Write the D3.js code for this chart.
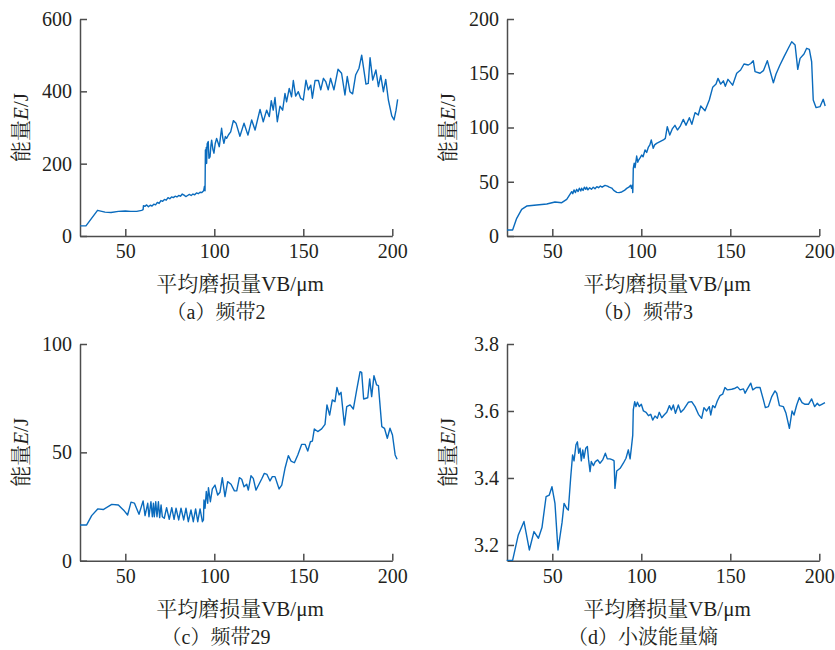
<!DOCTYPE html>
<html>
<head>
<meta charset="utf-8">
<script src="https://cdn.jsdelivr.net/npm/d3@7"></script>
<style>
	body { margin: 0; background: #fff; }
	svg text { font-family: "Liberation Serif", "Noto Serif CJK SC", "Noto Sans CJK SC", serif; fill: #231f20; }
	.axis path, .axis line { stroke: #4d4d4d; stroke-width: 1.5; }
	.axis text { font-size: 20px; }
</style>
</head>
<body>
<svg id="plot" width="835" height="650"></svg>
<script>
// x axis: mean flank wear VB (um)
var xTicks = [50, 100, 150, 200];

// (a) band 2
var band2Ticks = [0, 200, 400, 600];
var band2 = [[24.55,28],[27.9,28],[34.4,71],[38.6,66],[42,65],[46.1,68],[50,69],[53,68],[56.4,68],[59.2,71],[60,73],[60.2,84],[61,82],[62,86],[63,81],[64,85],[65,83],[66,88],[67,86],[68,93],[69,90],[70,98],[71,96],[72,101],[73,99],[74,106],[75,103],[76,108],[77,106],[78,110],[79,108],[80,112],[81,110],[82,116],[83,113],[84,109],[85,112],[86,115],[87,112],[88,116],[89,114],[90,119],[91,117],[92,121],[93,120],[94,125],[94.5,138],[94.8,125],[95,238],[95.2,200],[95.5,245],[95.7,201],[96,255],[96.6,261],[97,215],[97.6,219],[98.1,250],[98.5,265],[99.2,240],[99.8,229],[100.5,255],[101.3,270],[102.1,258],[102.8,247],[103.5,275],[104.1,298],[104.8,270],[105.4,256],[106.2,275],[106.9,270],[108,280],[109.2,288],[110.7,319],[112.2,312],[114.4,276],[116.7,312],[118.9,279],[121,321],[122.9,293],[125.7,350],[127.5,316],[129.4,348],[130.9,330],[132,374],[133.1,348],[134.1,383],[135.4,316],[136.9,359],[138.4,348],[139.7,394],[140.6,371],[142.1,408],[143.4,385],[144.4,430],[145.7,387],[147.2,399],[148.5,381],[150,376],[151.5,431],[152.8,404],[154.2,417],[155.1,381],[156.6,430],[158.5,430],[159.8,404],[161.3,436],[162.6,427],[164,404],[165.3,436],[167.2,404],[169.5,461],[171.5,450],[173.4,390],[174.7,441],[176.2,399],[177.7,393],[179.4,445],[181.3,464],[182.8,500],[185.2,420],[186.5,422],[187.5,493],[189,431],[190.8,459],[192.2,413],[193.5,444],[195,399],[196.3,433],[197.8,376],[199.7,332],[201,321],[202.1,348],[203,378]];

// (b) band 3
var band3Ticks = [0, 50, 100, 150, 200];
var band3 = [[24.55,5.5],[27.7,5.5],[30,16.3],[32.8,24.6],[35.6,27.6],[41.2,28.6],[46.9,29.5],[51.5,31.3],[55.3,30.7],[58.1,33.8],[60.9,40.9],[61.5,39],[62.2,42.5],[63,40],[63.7,43],[64.5,41],[65.2,44],[66,41.5],[66.5,44],[67.3,42],[68,45],[68.8,43],[69.3,45],[70,42.5],[71,44.5],[72,43],[73,45],[74,43.5],[75,45.5],[76,44.5],[77,46],[78,45],[79.6,46.7],[81,46],[82,45],[83.4,44.2],[84.5,42],[86.2,40.2],[87.5,40],[89,40.6],[90.5,42],[91.8,43.9],[93,45],[94,46.7],[94.5,44],[95,47],[95.2,40],[95.3,45],[95.5,62.4],[96,67],[96.5,63],[97.4,73.7],[98,68],[98.5,70],[99.3,72],[100.2,74.6],[101,73],[102.1,79.3],[103,77],[104,82],[104.8,84],[105.6,88.5],[106.7,80.8],[107.5,84],[108.6,85.4],[110.5,87],[112.4,88.5],[113.5,90],[114.6,100.8],[116,93],[117.5,99],[118.9,102],[120.3,97.7],[121.8,101],[123.6,107.5],[125.1,102],[127,109],[128.4,103],[130.2,113.7],[132,111.5],[133.4,119.8],[135.8,115.5],[138.2,125.3],[140.1,137],[142,140],[143.1,145.3],[144.6,140],[146.1,143],[147.2,138],[148.7,144.4],[151.3,139],[153.6,150],[155.8,153],[157.7,158.5],[160.1,157.6],[161.5,159],[162.9,161.6],[163.9,151.5],[166.7,150],[168.6,152.4],[170.8,161.6],[172.7,150],[174.2,141.3],[175.7,149.3],[177.9,157.6],[180.2,165.3],[182.6,173],[184.5,179],[186.4,176],[187.9,153.6],[189.2,163.7],[191.4,167.7],[192.9,173],[194.4,172],[195.7,160.6],[196.6,125.3],[198.2,118.3],[200.4,119.2],[202.2,126],[203.3,119.8]];

// (c) band 29
var band29Ticks = [0, 50, 100];
var band29 = [[24.55,16.5],[28.3,16.5],[31.1,20.8],[34.5,23.9],[37.6,23.6],[42.4,26],[46.1,25.7],[49.4,23],[51.3,21.1],[53.2,27],[55.1,26.6],[57.7,21.4],[60,27.6],[61.1,20.8],[62.6,26.5],[63.3,20.3],[64.4,27.2],[65.2,20.3],[65.8,26.5],[66.3,20.3],[67.1,27.2],[67.8,20.3],[68.6,27.2],[69.3,19.9],[70.1,25.7],[70.8,20.3],[71.9,19.6],[73.2,24.5],[74.7,19.1],[76.1,24.5],[77.4,19.1],[78.5,24.2],[80,18.8],[81.3,24.2],[82.8,18.8],[84.1,24.2],[85.4,18],[86.9,23.4],[88.2,18],[89.5,23.9],[90.7,18],[92,23.9],[93.3,18],[93.9,18.8],[94.2,28],[94.8,24.2],[95.5,31.9],[96.3,26.5],[96.7,33.7],[97.8,27.2],[98.9,33.1],[100.4,34.9],[101.9,30.3],[103.2,31.6],[104.5,38.3],[106,29.6],[107.5,36.5],[109.4,35.3],[111.3,32.2],[112.6,32.2],[114.1,38.3],[115.4,37.6],[116.7,34.1],[118.2,35.3],[119.1,32.6],[120.6,39.2],[121.9,38],[123.4,32.6],[125.1,35.3],[126.6,37.7],[128.1,40.3],[129.6,39.8],[131.3,36.8],[132.6,38.8],[134.1,38.8],[136.4,33.1],[137.9,34.9],[139.8,42.9],[141.6,48.5],[143.1,46],[145,45.2],[146.9,48.8],[149.1,53.7],[151,53.7],[152.5,50.6],[154,54.9],[155.1,55.2],[156.2,60.8],[158.1,59.6],[160.3,60.8],[162.2,62.9],[163.3,71.9],[164.8,67.2],[166.3,74.2],[167.8,73.4],[168.9,79.9],[170.1,76.5],[171.2,77.7],[173.1,62.6],[174.4,71.1],[176.3,71.9],[178.1,70],[180,78.8],[181.9,87.2],[182.8,86.9],[183.9,74.6],[186.2,75.2],[187.3,83.9],[188.4,75.7],[189.7,85.4],[191.2,81.1],[192.2,80.8],[194.1,61.9],[195.6,61.1],[197.2,56.5],[198.7,61.1],[200.1,58],[201.6,48.8],[202.7,46.8]];

// (d) wavelet energy entropy
var entropyTicks = [3.2, 3.4, 3.6, 3.8];
var entropy = [[24.4,3.154],[27.7,3.154],[30.9,3.230],[34.1,3.270],[37.1,3.185],[39.7,3.240],[42.2,3.220],[44.2,3.252],[46.5,3.344],[48.3,3.349],[49.8,3.374],[51.5,3.324],[53.2,3.185],[55.5,3.268],[56.6,3.324],[58.1,3.309],[59,3.304],[60.3,3.399],[61.4,3.469],[62.2,3.451],[63.3,3.499],[64.1,3.508],[64.8,3.474],[65.6,3.489],[66.3,3.451],[67.1,3.484],[67.8,3.459],[68.8,3.489],[69.7,3.494],[70.4,3.454],[71.2,3.419],[71.9,3.449],[73.1,3.437],[74.2,3.449],[75.5,3.454],[76.8,3.444],[78.3,3.454],[79.8,3.474],[80.9,3.457],[82.4,3.457],[83.9,3.454],[84.7,3.451],[85.2,3.369],[86.2,3.421],[88.1,3.429],[89.9,3.444],[91.4,3.459],[92.7,3.484],[93.7,3.457],[94.4,3.489],[95.2,3.528],[95.5,3.603],[96.3,3.628],[97,3.613],[97.8,3.626],[98.9,3.613],[100,3.620],[101.2,3.600],[102.7,3.596],[104,3.586],[105.3,3.590],[106.4,3.573],[107.7,3.585],[109,3.578],[110.1,3.596],[111.5,3.580],[112.8,3.588],[114.3,3.596],[115.8,3.616],[116.9,3.603],[118,3.618],[119.2,3.593],[120.8,3.618],[122.2,3.596],[124,3.606],[126.4,3.626],[128.3,3.628],[130.2,3.613],[132.1,3.590],[133.9,3.578],[135.2,3.610],[136.7,3.600],[138.2,3.613],[139,3.588],[140.1,3.616],[141.4,3.610],[142.7,3.630],[144.2,3.646],[145.7,3.650],[147,3.670],[148.4,3.663],[150.8,3.665],[152.7,3.668],[154,3.672],[155.5,3.663],[157.4,3.666],[158.3,3.653],[159.6,3.666],[161.5,3.683],[162.6,3.663],[164.5,3.670],[166.7,3.670],[168.6,3.633],[169.7,3.610],[171.4,3.613],[173.3,3.643],[175.1,3.660],[176.1,3.653],[177.6,3.616],[179.8,3.613],[181.3,3.593],[183.2,3.548],[184.7,3.600],[185.8,3.588],[187.3,3.618],[188.8,3.640],[190.3,3.625],[192,3.620],[193.9,3.620],[195.7,3.636],[197.4,3.613],[198.9,3.623],[200,3.616],[201.4,3.620],[203.2,3.625]];

var captions = ["（a）频带2", "（b）频带3", "（c）频带29", "（d）小波能量熵"];

var svg = d3.select('#plot');

function Panel(opt) {
	var x = d3.scaleLinear().domain([24.55, 200]).range([opt.l, opt.l + 312.3]),
		y = d3.scaleLinear().domain(opt.yDomain).range([opt.b, opt.t]);

	var g = svg.append("g");

	g.append("g")
		.attr("class", "axis")
		.attr("transform", "translate(0," + opt.b + ")")
		.call(d3.axisBottom(x).tickValues(xTicks).tickSizeInner(-7).tickSizeOuter(0).tickPadding(8));

	g.append("g")
		.attr("class", "axis")
		.attr("transform", "translate(" + opt.l + ",0)")
		.call(d3.axisLeft(y).tickValues(opt.ticks).tickSizeInner(-7).tickSizeOuter(0).tickPadding(8)
			.tickFormat(opt.fmt || d3.format("d")));

	g.selectAll(".axis text").attr("fill", "#231f20");

	var line = d3.line()
		.x(function(d) { return x(d[0]); })
		.y(function(d) { return y(d[1]); });

	g.append("path")
		.datum(opt.data)
		.attr("fill", "none")
		.attr("stroke", "#0a6bbd")
		.attr("stroke-width", 1.4)
		.attr("stroke-linejoin", "round")
		.attr("d", line);

	// y label
	var yl = g.append("text")
		.attr("transform", "translate(" + (opt.l - 60) + "," + ((opt.t + opt.b) / 2) + ") rotate(-90)")
		.attr("text-anchor", "middle")
		.attr("dy", "0.4em")
		.style("font-size", "21px");
	yl.append("tspan").text("能量");
	yl.append("tspan").style("font-style", "italic").text("E");
	yl.append("tspan").text("/J");

	g.append("text")
		.attr("x", opt.l + 160)
		.attr("y", opt.b + 55)
		.attr("text-anchor", "middle")
		.style("font-size", "21px")
		.text("平均磨损量VB/μm");

	g.append("text")
		.attr("x", opt.l + 136)
		.attr("y", opt.b + 83)
		.attr("text-anchor", "middle")
		.style("font-size", "20px")
		.text(opt.caption);
}

Panel({l: 80, t: 19, b: 236, yDomain: [0, 600], ticks: band2Ticks, data: band2, caption: captions[0]});
Panel({l: 507, t: 19, b: 236, yDomain: [0, 200], ticks: band3Ticks, data: band3, caption: captions[1]});
Panel({l: 80, t: 344, b: 560.7, yDomain: [0, 100], ticks: band29Ticks, data: band29, caption: captions[2]});
Panel({l: 507, t: 344, b: 560.7, yDomain: [3.153, 3.8], ticks: entropyTicks, data: entropy, caption: captions[3], fmt: d3.format(".1f")});
</script>
</body>
</html>
